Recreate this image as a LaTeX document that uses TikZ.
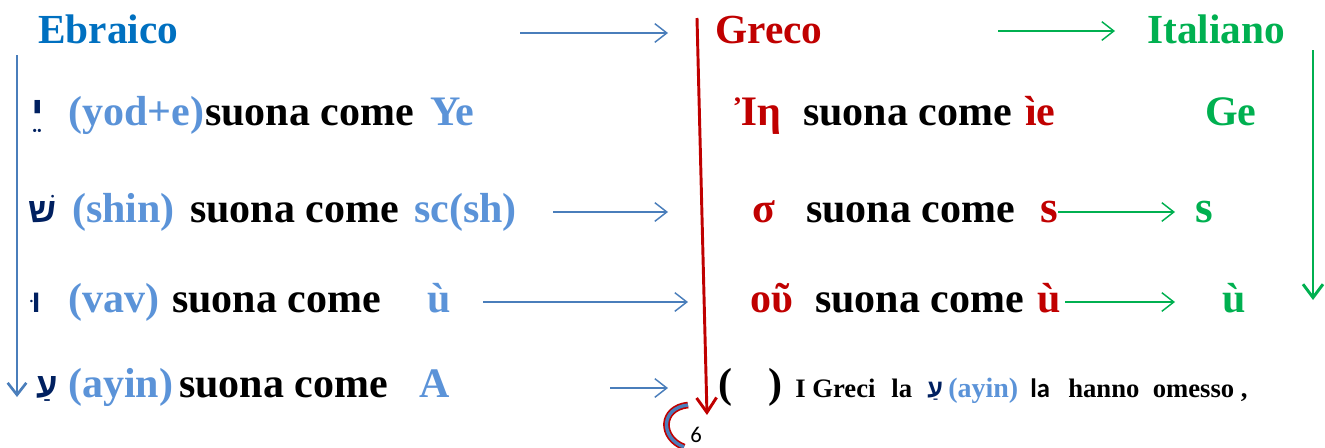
\documentclass[tikz,border=0pt]{standalone}
\usepackage{fontspec}
\usetikzlibrary{arrows.meta}
\setmainfont{Liberation Serif}
\newfontfamily\hebfont[Script=Hebrew]{Liberation Sans}
\newfontfamily\sansfnt{Carlito}
\TeXXeTstate=1

\definecolor{ebrblue}{HTML}{0070C0}
\definecolor{ltblue}{HTML}{5B93D8}
\definecolor{navy}{HTML}{002060}
\definecolor{grred}{HTML}{C00000}
\definecolor{itgreen}{HTML}{00B050}
\definecolor{arrblue}{HTML}{4A7EBB}

\newcommand{\rowsize}{\fontsize{31.5}{38}\selectfont\bfseries}
\newcommand{\headsize}{\fontsize{31}{37}\selectfont\bfseries}
\newcommand{\smallrow}{\fontsize{20}{24}\selectfont\bfseries}
\newcommand{\heb}[1]{{\hebfont\bfseries\beginR #1\endR}}

\tikzset{
  txt/.style={anchor=base west,inner sep=0pt,font=\rowsize},
  head/.style={anchor=base west,inner sep=0pt,font=\headsize},
  small/.style={anchor=base west,inner sep=0pt,font=\smallrow},
  barrow/.style={draw=arrblue,line width=1.1pt,-{Straight Barb[length=9pt,width=14pt]}},
  garrow/.style={draw=itgreen,line width=1.1pt,-{Straight Barb[length=9pt,width=14pt]}},
}

\begin{document}
\begin{tikzpicture}[x=0.75pt,y=-0.75pt]

\useasboundingbox (0,0) rectangle (1325,447);

%%%%%%%%%%%%%%%%%%%%%%%%%%%%%%%%%%%%%%

\node[head,text=ebrblue] (ebraico) at (38,43) {Ebraico};
\node[head,text=grred] (greco) at (715,43) {Greco};
\node[head,text=itgreen] (italiano) at (1147,43) {Italiano};

\coordinate (t0s) at (520,33);
\coordinate (t0e) at (668,33);
\coordinate (t1s) at (998,31);
\coordinate (t1e) at (1115,31);
\draw[barrow] (t0s) -- (t0e);
\draw[garrow] (t1s) -- (t1e);

%%%%%%%%%%%%%%%%%%%%%%%%%%%%%%%%%%%%%%

\node[txt,text=navy,font=\fontsize{31}{34}\selectfont] (h1) at (31,125) {\heb{יֵ}};
\node[txt,text=ltblue] (n1) at (68,125) {(yod+e)};
\node[txt] (s1) at (205,125) {suona come};
\node[txt,text=ltblue] (v1) at (430,125) {Ye};

\node[txt,text=grred] (g1) at (735,125) {Ἰη};
\node[txt] (gs1) at (803,125) {suona come};
\node[txt,text=grred] (gv1) at (1025,125) {ìe};
\node[txt,text=itgreen] (i1) at (1205,125) {Ge};

%%%%%%%%%%%%%%%%%%%%%%%%%%%%%%%%%%%%%%

\node[txt,text=navy,font=\fontsize{26}{30}\selectfont] (h2) at (28,222) {\heb{שׁ}};
\node[txt,text=ltblue] (n2) at (72,222) {(shin)};
\node[txt] (s2) at (190,222) {suona come};
\node[txt,text=ltblue] (v2) at (414,222) {sc(sh)};

\node[txt,text=grred] (g2) at (752,222) {σ};
\node[txt] (gs2) at (806,222) {suona come};
\node[txt,text=grred,font=\fontsize{34}{40}\selectfont\bfseries] (gv2) at (1040,222) {s};
\node[txt,text=itgreen,font=\fontsize{34}{40}\selectfont\bfseries] (i2) at (1195,222) {s};

\coordinate (r2s) at (553,212);
\coordinate (r2e) at (668,212);
\coordinate (q2s) at (1058,212);
\coordinate (q2e) at (1175,212);
\draw[barrow] (r2s) -- (r2e);
\draw[garrow] (q2s) -- (q2e);

%%%%%%%%%%%%%%%%%%%%%%%%%%%%%%%%%%%%%%

\node[txt,text=navy,font=\fontsize{24}{28}\selectfont] (h3) at (31,312) {\heb{וּ}};
\node[txt,text=ltblue] (n3) at (68,312) {(vav)};
\node[txt] (s3) at (172,312) {suona come};
\node[txt,text=ltblue] (v3) at (427,312) {ù};

\node[txt,text=grred] (g3) at (750,312) {οῦ};
\node[txt] (gs3) at (815,312) {suona come};
\node[txt,text=grred] (gv3) at (1037,312) {ù};
\node[txt,text=itgreen] (i3) at (1222,312) {ù};

\coordinate (r3s) at (483,302);
\coordinate (r3e) at (688,302);
\coordinate (q3s) at (1065,302);
\coordinate (q3e) at (1175,302);
\draw[barrow] (r3s) -- (r3e);
\draw[garrow] (q3s) -- (q3e);

%%%%%%%%%%%%%%%%%%%%%%%%%%%%%%%%%%%%%%

\node[txt,text=navy,font=\fontsize{26}{30}\selectfont] (h4) at (36,397) {\heb{עַ}};
\node[txt,text=ltblue] (n4) at (68,397) {(ayin)};
\node[txt] (s4) at (179,397) {suona come};
\node[txt,text=ltblue] (v4) at (419,397) {A};

\coordinate (r4s) at (610,388);
\coordinate (r4e) at (668,388);
\draw[barrow] (r4s) -- (r4e);

\node[txt] (po) at (718,397) {(};
\node[txt] (pc) at (768,397) {)};
\node[small] (gr4) at (795,397) {I Greci\hspace{12pt}la};
\node[small,text=navy,font=\fontsize{19}{22}\selectfont] (h5) at (927,397) {\heb{עַ}};
\node[small,text=ltblue,font=\fontsize{21}{24}\selectfont\bfseries] (n5) at (948,397) {(ayin)};
\node[small,font=\sansfnt\fontsize{20}{24}\selectfont\bfseries] (la) at (1030,397) {la};
\node[small] (om) at (1068,397) {hanno\ \ omesso ,};

%%%%%%%%%%%%%%%%%%%%%%%%%%%%%%%%%%%%%%

\coordinate (lv0) at (17,55);
\coordinate (lv1) at (17,397);
\draw[draw=arrblue,line width=2pt,-{Straight Barb[length=9pt,width=14pt]}] (lv0) -- (lv1);

\coordinate (mv0) at (697,18);
\coordinate (mv1) at (707,415);
\draw[draw=grred,line width=2.2pt,-{Straight Barb[length=11pt,width=15pt]}] (mv0) -- (mv1);

\coordinate (rv0) at (1313,50);
\coordinate (rv1) at (1313,300);
\draw[draw=itgreen,line width=2.2pt,-{Straight Barb[length=10pt,width=15pt]}] (rv0) -- (rv1);

%%%%%%%%%%%%%%%%%%%%%%%%%%%%%%%%%%%%%%

\node[anchor=base west,inner sep=0pt,font=\sansfnt\fontsize{17}{20}\selectfont] (pag) at (690,442) {6};
\coordinate (c0) at (688,405);
\coordinate (c1) at (684,447);
\draw[grred,line width=5pt] (c0) .. controls (660,408) and (660,438) .. (c1);
\draw[arrblue,line width=2.5pt] (c0) .. controls (660,408) and (660,438) .. (c1);

\end{tikzpicture}
\end{document}
